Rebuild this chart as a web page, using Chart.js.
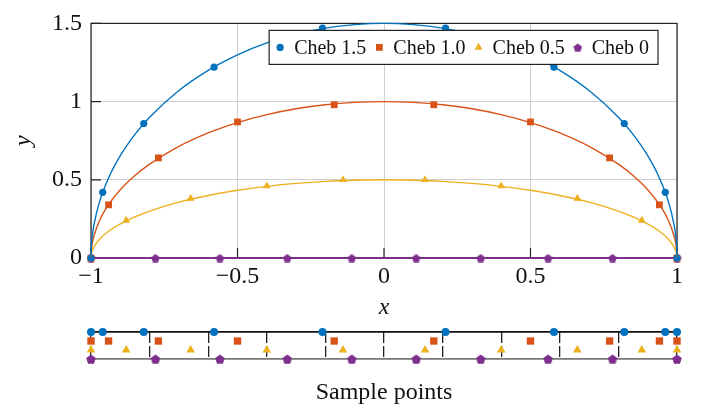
<!DOCTYPE html>
<html>
<head>
<meta charset="utf-8">
<script src="https://cdn.jsdelivr.net/npm/chart.js@4/dist/chart.umd.min.js"></script>
<style>
  body { margin: 0; background: #fff; }
  #wrap { position: relative; width: 709px; height: 410px; }
  #main { position: absolute; left: 0; top: 0; }
  #strip { position: absolute; left: 0; top: 320px; }
</style>
</head>
<body>
<div id="wrap">
  <canvas id="main" width="709" height="320"></canvas>
  <canvas id="strip" width="709" height="90"></canvas>
</div>
<script>
// series names and colours
const seriesNames = ['Cheb 1.5', 'Cheb 1.0', 'Cheb 0.5', 'Cheb 0'];
const colors = ['#0072BD', '#D95319', '#EDB120', '#7E2F8E'];

// sample points (x)
const xCheb15 = [-1, -0.96, -0.82, -0.58, -0.21, 0.21, 0.58, 0.82, 0.96, 1];
const xCheb10 = [-1, -0.94, -0.77, -0.5, -0.17, 0.17, 0.5, 0.77, 0.94, 1];
const xCheb05 = [-1, -0.88, -0.66, -0.4, -0.14, 0.14, 0.4, 0.66, 0.88, 1];
const xCheb0 = [-1, -0.78, -0.56, -0.33, -0.11, 0.11, 0.33, 0.56, 0.78, 1];

// marker heights in the main plot
const yCheb15 = [0, 0.42, 0.86, 1.22, 1.47, 1.47, 1.22, 0.86, 0.42, 0];
const yCheb10 = [0, 0.34, 0.64, 0.87, 0.98, 0.98, 0.87, 0.64, 0.34, 0];
const yCheb05 = [0, 0.24, 0.38, 0.46, 0.5, 0.5, 0.46, 0.38, 0.24, 0];
const yCheb0 = [0, 0, 0, 0, 0, 0, 0, 0, 0, 0];

// smooth curves
const curveX = [-1, -0.999, -0.995, -0.99, -0.97, -0.94, -0.9, -0.85, -0.8, -0.7, -0.6, -0.5, -0.4, -0.3, -0.2, -0.1, 0,
  0.1, 0.2, 0.3, 0.4, 0.5, 0.6, 0.7, 0.8, 0.85, 0.9, 0.94, 0.97, 0.99, 0.995, 0.999, 1];
const curve15 = [0, 0.067, 0.15, 0.212, 0.365, 0.512, 0.654, 0.79, 0.9, 1.071, 1.2, 1.299, 1.375, 1.431, 1.47, 1.492, 1.5,
  1.492, 1.47, 1.431, 1.375, 1.299, 1.2, 1.071, 0.9, 0.79, 0.654, 0.512, 0.365, 0.212, 0.15, 0.067, 0];
const curve10 = [0, 0.045, 0.1, 0.141, 0.243, 0.341, 0.436, 0.527, 0.6, 0.714, 0.8, 0.866, 0.917, 0.954, 0.98, 0.995, 1,
  0.995, 0.98, 0.954, 0.917, 0.866, 0.8, 0.714, 0.6, 0.527, 0.436, 0.341, 0.243, 0.141, 0.1, 0.045, 0];
const curve05 = [0, 0.022, 0.05, 0.071, 0.122, 0.171, 0.218, 0.263, 0.3, 0.357, 0.4, 0.433, 0.458, 0.477, 0.49, 0.497, 0.5,
  0.497, 0.49, 0.477, 0.458, 0.433, 0.4, 0.357, 0.3, 0.263, 0.218, 0.171, 0.122, 0.071, 0.05, 0.022, 0];

// strip rows (top to bottom)
const stripRows = [3, 2, 1, 0];

const FONT = "'Liberation Serif', 'Times New Roman', serif";

function pentagon(size, color) {
    const c = document.createElement('canvas');
    c.width = size; c.height = size;
    const g = c.getContext('2d');
    const r = size / 2;
    g.fillStyle = color;
    g.beginPath();
    for (let i = 0; i < 5; i++) {
        const a = -Math.PI / 2 + i * 2 * Math.PI / 5;
        const px = r + r * Math.cos(a), py = r + 0.6 + r * Math.sin(a);
        if (i === 0) g.moveTo(px, py); else g.lineTo(px, py);
    }
    g.closePath();
    g.fill();
    return c;
}

const pent = pentagon(9, colors[3]);
const pentStrip = pentagon(10, colors[3]);

const xs = [xCheb15, xCheb10, xCheb05, xCheb0];
const ys = [yCheb15, yCheb10, yCheb05, yCheb0];
const curves = [curve15, curve10, curve05];
const styles = ['circle', 'rect', 'triangle', pent];
const radii = [3.6, 4.8, 4.6, 4];

const pts = (x, y) => x.map((v, i) => ({ x: v, y: y[i] }));

const datasets = [];
curves.forEach((c, i) => {
    datasets.push({
        data: pts(curveX, c), showLine: true, borderColor: colors[i], borderWidth: 1.4,
        pointRadius: 0, cubicInterpolationMode: 'monotone', clip: false, legend: false
    });
});
xs.forEach((x, i) => {
    datasets.push({
        label: seriesNames[i], data: pts(x, ys[i]),
        showLine: i === 3, borderColor: colors[i], borderWidth: 2,
        backgroundColor: colors[i], pointBackgroundColor: colors[i], pointBorderWidth: 0,
        pointStyle: styles[i], pointRadius: radii[i], clip: false, legend: true
    });
});

function drawMarker(ctx, style, r, color, x, y) {
    if (style instanceof HTMLCanvasElement) {
        ctx.drawImage(style, x - style.width / 2, y - style.height / 2);
        return;
    }
    ctx.save();
    ctx.fillStyle = color;
    Chart.helpers.drawPoint(ctx, { pointStyle: style, radius: r, rotation: 0, borderWidth: 0 }, x, y);
    ctx.restore();
}

// frame, inner ticks and in-plot legend
const framePlugin = {
    id: 'frame',
    beforeDatasetsDraw(chart) {
        const { ctx, chartArea: a, scales } = chart;
        ctx.save();
        ctx.strokeStyle = '#222';
        ctx.lineWidth = 1.2;
        ctx.strokeRect(a.left, a.top, a.right - a.left, a.bottom - a.top);
        ctx.beginPath();
        scales.x.ticks.forEach(t => {
            const px = scales.x.getPixelForValue(t.value);
            ctx.moveTo(px, a.bottom); ctx.lineTo(px, a.bottom - 10);
        });
        scales.y.ticks.forEach(t => {
            const py = scales.y.getPixelForValue(t.value);
            ctx.moveTo(a.left, py); ctx.lineTo(a.left + 10, py);
        });
        ctx.stroke();
        ctx.restore();
    },
    afterDraw(chart) {
        const { ctx, chartArea: a } = chart;
        const items = chart.data.datasets.filter(d => d.legend);
        ctx.save();
        ctx.font = '20px ' + FONT;
        const widths = items.map(d => ctx.measureText(d.label).width);
        const padL = 11, textOff = 14, gap = 13, padR = 9;
        const total = padL + widths.reduce((s, w) => s + textOff + w + gap, 0) - gap + padR;
        const right = a.right - 19, top = a.top + 7, h = 34;
        const left = right - total;
        ctx.fillStyle = '#fff';
        ctx.fillRect(left, top, total, h);
        ctx.strokeStyle = '#222';
        ctx.lineWidth = 1.2;
        ctx.strokeRect(left, top, total, h);
        let x = left + padL;
        const cy = top + h / 2;
        items.forEach((d, i) => {
            drawMarker(ctx, d.pointStyle, d.pointRadius, d.backgroundColor, x, cy);
            ctx.fillStyle = '#111';
            ctx.textBaseline = 'middle';
            ctx.fillText(d.label, x + textOff, cy + 1);
            x += textOff + widths[i] + gap;
        });
        ctx.restore();
    }
};

const tickFmt = v => (v < 0 ? '\u2212' + Math.abs(v) : String(v));

new Chart(document.getElementById('main'), {
    type: 'scatter',
    data: { datasets },
    options: {
        responsive: false,
        animation: false,
        layout: { padding: { top: 19, right: 32, left: 0, bottom: 0 } },
        plugins: { legend: { display: false }, tooltip: { enabled: false } },
        scales: {
            x: {
                type: 'linear', min: -1, max: 1,
                ticks: { stepSize: 0.5, color: '#111', padding: 4, font: { family: FONT, size: 24 }, callback: tickFmt },
                grid: { color: '#cfcfcf', lineWidth: 1, drawTicks: false },
                border: { display: false },
                title: { display: true, text: 'x', color: '#111', padding: 0,
                    font: { family: FONT, size: 24, style: 'italic', lineHeight: 1 } },
                afterFit: s => { s.height = 62; }
            },
            y: {
                type: 'linear', min: 0, max: 1.5,
                ticks: { stepSize: 0.5, color: '#111', padding: 9, font: { family: FONT, size: 24 }, callback: tickFmt },
                grid: { color: '#cfcfcf', lineWidth: 1, drawTicks: false },
                border: { display: false },
                title: { display: true, text: 'y', color: '#111', padding: { top: 12, bottom: 0 },
                    font: { family: FONT, size: 24, style: 'italic', lineHeight: 1 } },
                afterFit: s => { s.width = 91; }
            }
        }
    },
    plugins: [framePlugin]
});

// bottom strip of sample points
const stripStyles = ['circle', 'rect', 'triangle', pentStrip];
const stripRadii = [4, 5.2, 5, 4];
new Chart(document.getElementById('strip'), {
    type: 'scatter',
    data: {
        datasets: xs.map((x, i) => ({
            data: x.map(v => ({ x: v, y: stripRows[i] })),
            backgroundColor: colors[i], pointBorderWidth: 0,
            pointStyle: stripStyles[i], pointRadius: stripRadii[i], clip: false
        }))
    },
    options: {
        responsive: false,
        animation: false,
        layout: { padding: { top: 12, right: 32, left: 0, bottom: 0 } },
        plugins: { legend: { display: false }, tooltip: { enabled: false } },
        scales: {
            x: {
                type: 'linear', min: -1, max: 1,
                ticks: { stepSize: 0.2, display: false },
                grid: { color: '#222', lineWidth: 1.3, drawTicks: false },
                border: { display: false, dash: [11, 3] },
                title: { display: true, text: 'Sample points', color: '#111', padding: { top: 0, bottom: 5 },
                    font: { family: FONT, size: 24, lineHeight: 1 } },
                afterFit: s => { s.height = 51; }
            },
            y: {
                type: 'linear', min: 0, max: 3,
                ticks: { stepSize: 3, display: false },
                grid: { color: c => (c.tick && c.tick.value === 0 ? '#777' : '#111'), lineWidth: 1.8, drawTicks: false },
                border: { display: false },
                afterFit: s => { s.width = 91; }
            }
        }
    }
});
</script>
</body>
</html>
